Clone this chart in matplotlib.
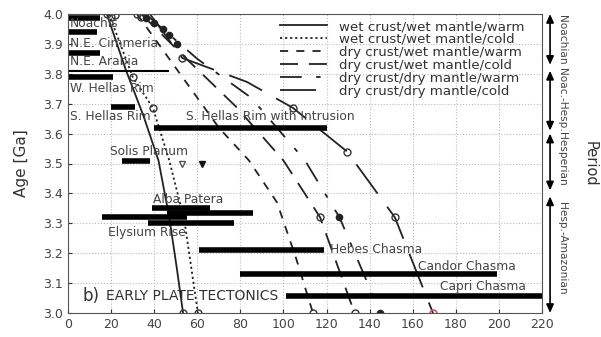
import matplotlib
matplotlib.use("Agg")
import matplotlib.pyplot as plt
import matplotlib.transforms as mtransforms

# ---------------- data ----------------
# model curves: heat flow (x) vs age (Ga)
wwwarm_x = [18, 27, 35, 42, 47, 50.5, 53.4]
wwwarm_age = [4.0, 3.81, 3.66, 3.51, 3.32, 3.15, 3.0]
wwcold_x = [19, 30, 39.4, 47, 54, 60.3]
wwcold_age = [4.0, 3.79, 3.686, 3.51, 3.31, 3.0]
dwwarm_x = [32, 50, 70, 84, 97, 106, 113.7]
dwwarm_age = [4.0, 3.82, 3.62, 3.51, 3.37, 3.18, 3.0]
dwcold_x = [34, 55, 78, 100, 117, 126, 133]
dwcold_age = [4.0, 3.85, 3.69, 3.51, 3.32, 3.14, 3.0]
ddwarm_x = [36, 60, 85, 110, 126, 135.5, 145]
ddwarm_age = [4.0, 3.85, 3.72, 3.51, 3.32, 3.16, 3.0]
ddcold_x = [38, 53, 83, 104.4, 129.5, 151.7, 169.4]
ddcold_age = [4.0, 3.853, 3.773, 3.686, 3.54, 3.32, 3.0]

curve_labels = ["wet crust/wet mantle/warm", "wet crust/wet mantle/cold",
                "dry crust/wet mantle/warm", "dry crust/wet mantle/cold",
                "dry crust/dry mantle/warm", "dry crust/dry mantle/cold"]

# data markers
open_x = [18, 20, 22, 32, 34, 30, 39.4, 53, 104.4, 129.5, 151.7, 117, 113.7, 133, 53.4, 60.3]
open_age = [4.0, 3.99, 3.995, 4.0, 3.99, 3.79, 3.686, 3.853, 3.686, 3.54, 3.32, 3.32, 3.0, 3.0, 3.0, 3.0]
dot_x = [36, 40, 44, 47, 50.6, 126, 145]
dot_age = [3.985, 3.97, 3.95, 3.93, 3.90, 3.32, 3.0]
red_x = [169.4]
red_age = [3.0]
tri_open_x = [53]
tri_open_age = [3.50]
tri_fill_x = [62]
tri_fill_age = [3.50]

# crater-count regions: age, xmin, xmax
bar_age = [3.985, 3.94, 3.87, 3.79, 3.69, 3.62, 3.51, 3.35, 3.335, 3.32, 3.30, 3.21, 3.13, 3.057]
bar_xmin = [0, 0, 0, 0, 20, 40, 25, 39, 46, 16, 37, 61, 80, 101]
bar_xmax = [15, 13.5, 15, 21, 31, 120, 38, 66, 86, 55, 77, 119, 199, 220]
thin_age = [3.81]
thin_xmin = [0]
thin_xmax = [47]

region_names = ["Noachis", "N.E. Cimmeria", "N.E. Arabia", "W. Hellas Rim", "S. Hellas Rim",
                "S. Hellas Rim with Intrusion", "Solis Planum", "Alba Patera", "Elysium Rise",
                "Hebes Chasma", "Candor Chasma", "Capri Chasma"]
region_x = [1, 1, 1, 1, 1, 55, 19.5, 39.4, 18.6, 121.6, 162.4, 172.6]
region_age = [3.967, 3.903, 3.84, 3.75, 3.656, 3.656, 3.54, 3.38, 3.27, 3.214, 3.157, 3.087]

period_names = ["Noachian", "Noac.-Hesp.", "Hesperian", "Hesp.-Amazonian"]
period_top = [4.0, 3.81, 3.60, 3.39]
period_bot = [3.83, 3.61, 3.41, 3.0]
period_label_age = [3.913, 3.712, 3.515, 3.217]

xticks = list(range(0, 221, 20))
yticks = [3.0, 3.1, 3.2, 3.3, 3.4, 3.5, 3.6, 3.7, 3.8, 3.9, 4.0]

# ---------------- plot ----------------
fig = plt.figure(figsize=(6.01, 3.37), dpi=100)
ax = fig.add_axes([68/601, 24/337, 474/601, 299/337])

styles = ["-", (0, (1.2, 1.6)), (0, (4.5, 4.5)), (0, (10, 6)),
          (0, (12, 8, 2.5, 8)), (0, (20, 9))]
curves = [(wwwarm_x, wwwarm_age), (wwcold_x, wwcold_age), (dwwarm_x, dwwarm_age),
          (dwcold_x, dwcold_age), (ddwarm_x, ddwarm_age), (ddcold_x, ddcold_age)]
for (cx, cy), ls, lab in zip(curves, styles, curve_labels):
    ax.plot(cx, cy, color="#222222", lw=1.3, linestyle=ls, label=lab)

ax.plot(open_x, open_age, linestyle="none", marker="o", ms=5, mfc="none", mec="#333333", mew=1.0)
ax.plot(dot_x, dot_age, linestyle="none", marker="o", ms=4.5, color="#222222")
ax.plot(red_x, red_age, linestyle="none", marker="o", ms=5, mfc="none", mec="#cc5566", mew=1.2)
ax.plot(tri_open_x, tri_open_age, linestyle="none", marker="v", ms=5, mfc="none", mec="#555555")
ax.plot(tri_fill_x, tri_fill_age, linestyle="none", marker="v", ms=5, color="#111111")

ax.hlines(bar_age, bar_xmin, bar_xmax, colors="black", lw=4.0)
ax.hlines(thin_age, thin_xmin, thin_xmax, colors="black", lw=1.5)

for name, x, a in zip(region_names, region_x, region_age):
    ax.text(x, a, name, fontsize=8.8, color="#444444", va="center", ha="left")

ax.text(6.5, 3.057, "b)", fontsize=12, color="#333333", va="center", ha="left")
ax.text(17.5, 3.057, "EARLY PLATE TECTONICS", fontsize=10, color="#333333", va="center", ha="left")

ax.set_xlim(0, 220)
ax.set_ylim(3.0, 4.0)
ax.set_xticks(xticks)
ax.set_yticks(yticks)
ax.set_yticklabels([f"{v:.1f}" for v in yticks])
ax.tick_params(direction="in", labelsize=9, colors="#333333", length=3)
for lab in ax.get_xticklabels() + ax.get_yticklabels():
    lab.set_color("#444444")
ax.grid(True, linestyle=":", color="#bbbbbb", lw=0.8)
for s in ax.spines.values():
    s.set_color("#555555")
ax.set_ylabel("Age [Ga]", fontsize=11, color="#333333", labelpad=10)

leg = ax.legend(loc="upper right", bbox_to_anchor=(0.975, 1.0), frameon=False,
                fontsize=9.6, handlelength=3.5, labelspacing=0.0, borderaxespad=0.45,
                handletextpad=0.9, borderpad=0.0)
for t in leg.get_texts():
    t.set_color("#333333")

# period column
trans = mtransforms.blended_transform_factory(ax.transAxes, ax.transData)
for top, bot in zip(period_top, period_bot):
    ax.annotate("", xy=(1.017, top), xytext=(1.017, bot), xycoords=trans, textcoords=trans,
                arrowprops=dict(arrowstyle="<|-|>,head_length=0.5,head_width=0.22",
                                color="black", lw=1.2, shrinkA=0, shrinkB=0),
                annotation_clip=False)
for name, la in zip(period_names, period_label_age):
    ax.text(1.042, la, name, transform=trans, rotation=-90, fontsize=7.6,
            color="#444444", ha="center", va="center", clip_on=False)
ax.text(1.102, 3.5, "Period", transform=trans, rotation=-90, fontsize=10.5,
        color="#333333", ha="center", va="center", clip_on=False)

fig.savefig("out.png", dpi=100)
